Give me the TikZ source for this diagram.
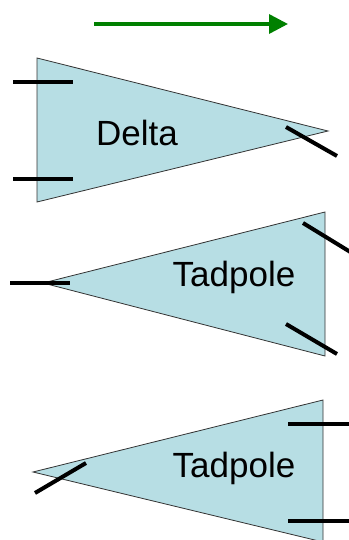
\documentclass[tikz,border=0pt]{standalone}
\usepackage{fontspec}
\setmainfont{Liberation Sans}
\usetikzlibrary{arrows.meta}
\definecolor{wingfill}{RGB}{183,222,228}
\definecolor{arrowgreen}{RGB}{0,128,0}
\tikzset{
  wing/.style={fill=wingfill, draw=black!80, line width=0.8pt, line join=miter},
  tick/.style={draw=black, line width=4pt},
  lbl/.style={font=\fontsize{35}{40}\selectfont, inner sep=0pt},
  dirarrow/.style={draw=arrowgreen, line width=3.5pt, -{Triangle[length=19pt,width=19pt]}}
}
\begin{document}
\begin{tikzpicture}[x=1pt,y=-1pt]
\useasboundingbox (0,0) rectangle (348,540);
% direction arrow
\coordinate (a0) at (94,24);
\coordinate (a1) at (288,24);
\draw[dirarrow] (a0) -- (a1);

% Delta
\coordinate (d1) at (37,58);
\coordinate (d2) at (37,202);
\coordinate (d3) at (328,131);
\draw[wing] (d1) -- (d3) -- (d2) -- cycle;
\node[lbl] (delta) at (137,133) {Delta};
\coordinate (dt1a) at (13,82);  \coordinate (dt1b) at (73,82);
\coordinate (dt2a) at (13,179); \coordinate (dt2b) at (73,179);
\coordinate (dt3a) at (286,127); \coordinate (dt3b) at (337,156);
\draw[tick] (dt1a) -- (dt1b);
\draw[tick] (dt2a) -- (dt2b);
\draw[tick] (dt3a) -- (dt3b);

% Tadpole 1
\coordinate (t1) at (43,283);
\coordinate (t2) at (325,212);
\coordinate (t3) at (325,356);
\draw[wing] (t1) -- (t2) -- (t3) -- cycle;
\node[lbl] (tad1) at (234,277) {Tadpole};
\coordinate (tt1a) at (10,283);  \coordinate (tt1b) at (70,283);
\coordinate (tt2a) at (303,223); \coordinate (tt2b) at (352,253);
\coordinate (tt3a) at (286,324); \coordinate (tt3b) at (337,354);
\draw[tick] (tt1a) -- (tt1b);
\draw[tick] (tt2a) -- (tt2b);
\draw[tick] (tt3a) -- (tt3b);

% Tadpole 2
\coordinate (s1) at (33,472);
\coordinate (s2) at (323,400);
\coordinate (s3) at (323,542);
\draw[wing] (s1) -- (s2) -- (s3) -- cycle;
\node[lbl] (tad2) at (234,468) {Tadpole};
\coordinate (st1a) at (288,424); \coordinate (st1b) at (350,424);
\coordinate (st2a) at (288,521); \coordinate (st2b) at (350,521);
\coordinate (st3a) at (35,493);  \coordinate (st3b) at (86,463);
\draw[tick] (st1a) -- (st1b);
\draw[tick] (st2a) -- (st2b);
\draw[tick] (st3a) -- (st3b);
\end{tikzpicture}
\end{document}
